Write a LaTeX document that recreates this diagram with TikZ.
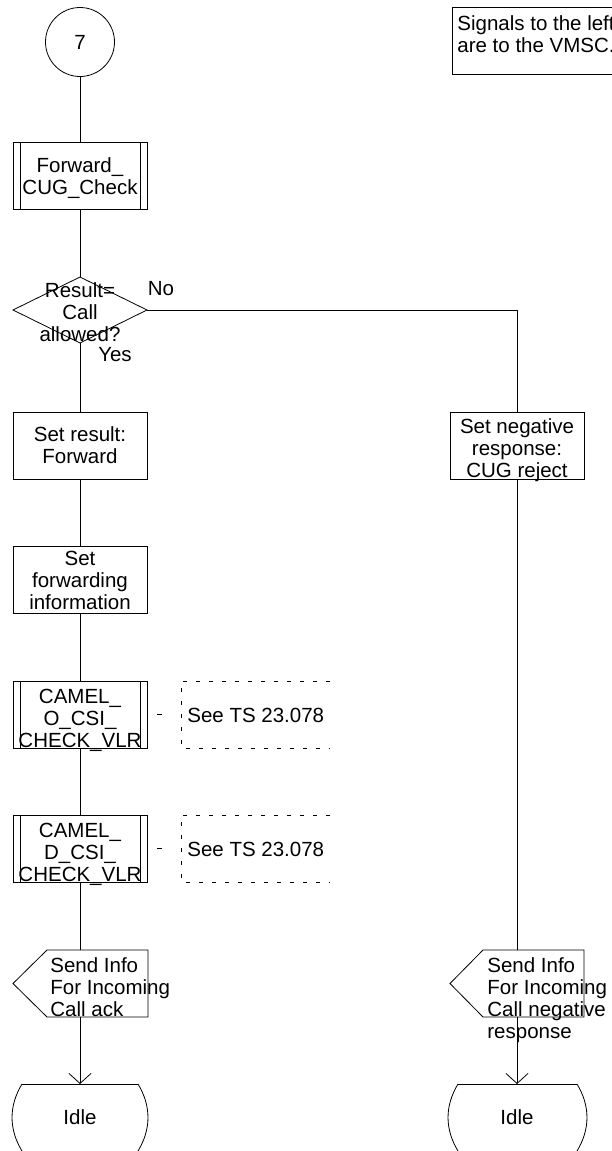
\documentclass[tikz,border=0pt]{standalone}
\usepackage{fontspec}
\setmainfont{Liberation Sans}
\usetikzlibrary{arrows.meta}
\begin{document}
\begin{tikzpicture}[x=1pt,y=-1pt,
  line width=0.8pt,
  every node/.style={font=\fontsize{20.5}{22}\selectfont, inner sep=0pt},
  box/.style={draw, rectangle, minimum width=134pt, minimum height=67pt},
  proc/.style={box, path picture={
      \draw ([xshift=7pt]path picture bounding box.north west) -- ([xshift=7pt]path picture bounding box.south west);
      \draw ([xshift=-7pt]path picture bounding box.north east) -- ([xshift=-7pt]path picture bounding box.south east);}},
  txt/.style={align=center},
  ltxt/.style={align=left, anchor=north west},
  comm/.style={dash pattern=on 4pt off 9pt},
  commlink/.style={dash pattern=on 0pt off 10pt on 5pt off 60pt},
  arr/.style={-{Straight Barb[length=10pt,width=22pt]}}
]
\useasboundingbox (0,0) rectangle (612,1151);
\clip (0,0) rectangle (612,1151);

% note box top right
\draw (452,7) rectangle (660,74);
\node[ltxt] (note) at (457,15.5) {Signals to the left\\are to the VMSC.};

% start connector
\node[circle, draw, minimum size=69pt] (c7) at (80,42) {7};

\node[proc] (cug) at (80,176) {};
\node[txt, yshift=-2pt] (cugt) at (cug.center) {Forward\_\\CUG\_Check};

% decision
\coordinate (decN) at (80,277);
\coordinate (decS) at (80,343);
\coordinate (decE) at (147,310);
\coordinate (decW) at (13,310);
\draw (decW) -- (decN) -- (decE) -- (decS) -- cycle;
\node[txt] (dect) at (80,312) {Result=\\Call\\allowed?};
\node[anchor=base] (no) at (161,295) {No};
\node[anchor=base] (yes) at (115,361) {Yes};

\node[box] (res) at (80,445.5) {};
\node[txt] (rest) at (res.center) {Set result:\\Forward};
\node[box] (neg) at (517,445.5) {};
\node[txt, yshift=-5pt] (negt) at (neg.center) {Set negative\\response:\\CUG reject};
\node[box] (fwd) at (80,579.5) {};
\node[txt, yshift=-1pt] (fwdt) at (fwd.center) {Set\\forwarding\\information};

\node[proc] (cam1) at (80,714.5) {};
\node[txt, yshift=-6pt] (cam1t) at (cam1.center) {CAMEL\_\\O\_CSI\_\\CHECK\_VLR};
\node[proc] (cam2) at (80,848.5) {};
\node[txt, yshift=-6pt] (cam2t) at (cam2.center) {CAMEL\_\\D\_CSI\_\\CHECK\_VLR};

% comments
\coordinate (cm1) at (181,714.5);
\coordinate (cm2) at (181,848.5);
\draw[comm] (330,681) -- (181,681) -- (181,748) -- (330,748);
\draw[comm] (330,815) -- (181,815) -- (181,882) -- (330,882);
\node[anchor=base west] (see1) at (187,722) {See TS 23.078};
\node[anchor=base west] (see2) at (187,856) {See TS 23.078};
\draw[commlink] (cam1.east) -- (cm1);
\draw[commlink] (cam2.east) -- (cm2);

% send outputs
\coordinate (s1N) at (80,950);
\coordinate (s1S) at (80,1017);
\draw (47,950) -- (148,950) -- (148,1017) -- (47,1017) -- (13,983.5) -- cycle;
\node[ltxt] (s1t) at (50,957.5) {Send Info\\For Incoming\\Call ack};

\coordinate (s2N) at (517,950);
\coordinate (s2S) at (517,1017);
\draw (483,950) -- (584,950) -- (584,1017) -- (483,1017) -- (450,983.5) -- cycle;
\node[ltxt] (s2t) at (487,957.5) {Send Info\\For Incoming\\Call negative\\response};

% idle states
\coordinate (i1N) at (80,1084);
\draw (22,1084) -- (138,1084);
\draw (22,1084) .. controls (8.7,1106) and (8.7,1129) .. (22,1151);
\draw (138,1084) .. controls (151.3,1106) and (151.3,1129) .. (138,1151);
\node (idle1) at (80,1117.5) {Idle};

\coordinate (i2N) at (517,1084);
\draw (458,1084) -- (577,1084);
\draw (458,1084) .. controls (444.7,1106) and (444.7,1129) .. (458,1151);
\draw (577,1084) .. controls (590.3,1106) and (590.3,1129) .. (577,1151);
\node (idle2) at (517,1117.5) {Idle};

% connectors
\draw (c7.south) -- (cug.north);
\draw (cug.south) -- (decN);
\draw (decS) -- (res.north);
\draw (decE) -| (neg.north);
\draw (res.south) -- (fwd.north);
\draw (fwd.south) -- (cam1.north);
\draw (cam1.south) -- (cam2.north);
\draw (cam2.south) -- (s1N);
\draw[arr] (s1S) -- (i1N);
\draw (neg.south) -- (s2N);
\draw[arr] (s2S) -- (i2N);
\end{tikzpicture}
\end{document}
